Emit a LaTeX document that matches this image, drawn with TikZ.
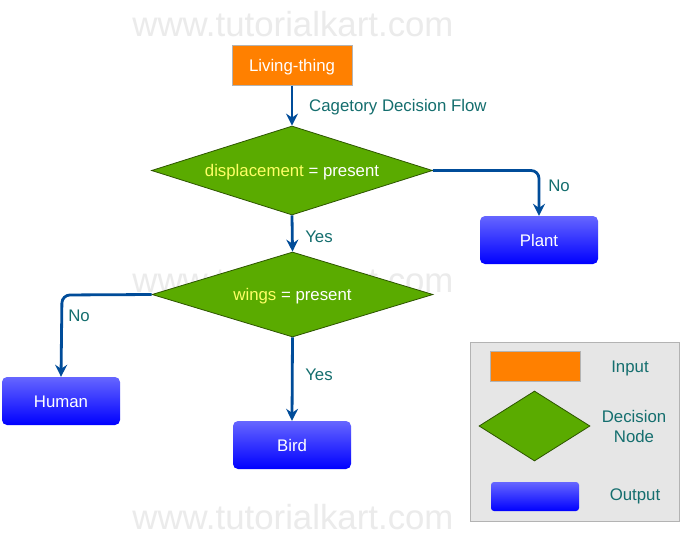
\documentclass[tikz,border=0pt]{standalone}
\usepackage{fontspec}
\setmainfont{Liberation Sans}
\usetikzlibrary{shapes.geometric,arrows.meta}
\definecolor{arrowblue}{HTML}{004C99}
\definecolor{labelteal}{HTML}{146E6E}
\definecolor{inorange}{HTML}{FF8000}
\definecolor{decgreen}{HTML}{5AAB00}
\definecolor{decborder}{HTML}{2D5500}
\definecolor{outtop}{HTML}{6666FF}
\definecolor{outbot}{HTML}{0000FF}
\definecolor{legendbg}{HTML}{E6E6E6}
\definecolor{legendborder}{HTML}{B3B3B3}
\definecolor{wmgray}{HTML}{EBEBEB}
\definecolor{condyellow}{HTML}{FFFF66}
\tikzset{
  x=1pt, y=-1pt,
  txt/.style={font=\fontsize{16.8}{20}\selectfont},
  low/.style={text height=14.5pt, text depth=2pt},
  inputbox/.style={txt, low, draw=legendborder, line width=1pt, fill=inorange, text=white, minimum width=120pt, minimum height=40pt, inner sep=0pt},
  decision/.style={txt, low, diamond, draw=decborder, line width=0.8pt, fill=decgreen, text=white, inner sep=0pt},
  outputbox/.style={txt, low, rounded corners=5pt, top color=outtop, bottom color=outbot, draw=none, text=white, minimum width=118pt, minimum height=48pt, inner sep=0pt},
  flow/.style={draw=arrowblue, line width=2.8pt, rounded corners=8pt, -{Stealth[length=12pt,width=12pt,inset=4pt]}},
  lbl/.style={txt, text=labelteal, inner sep=0pt},
  watermark/.style={font=\fontsize{34.8}{40}\selectfont, text=wmgray, inner sep=0pt}
}
\begin{document}
\begin{tikzpicture}
\useasboundingbox (0,0) rectangle (680,539);
\fill[white] (0,0) rectangle (680,539);
% watermarks
\node[watermark] (wm1) at (293,24) {www.tutorialkart.com};
\node[watermark] (wm2) at (293,280) {www.tutorialkart.com};
\node[watermark] (wm3) at (293,517) {www.tutorialkart.com};
% nodes
\node[inputbox] (living) at (292,65) {Living-thing};
\node[decision, shape aspect=3.157, minimum width=281pt, minimum height=89pt] (d1) at (292,170.5) {\textcolor{condyellow}{displacement} = present};
\node[decision, shape aspect=3.3, minimum width=281pt, minimum height=85pt] (d2) at (292.5,294.5) {\textcolor{condyellow}{wings} = present};
\node[outputbox] (plant) at (539,240) {Plant};
\node[outputbox] (human) at (61,401) {Human};
\node[outputbox] (bird) at (292,445) {Bird};
% connectors
\draw[flow] (living.south) -- (d1.north);
\node[lbl, low, anchor=west] (cdf) at (309,105) {Cagetory Decision Flow};
\draw[flow] (d1.east) -| (plant.north);
\node[lbl, low] (no1) at (559,185) {No};
\draw[flow] (d1.south) -- (d2.north);
\node[lbl, low] (yes1) at (319,236) {Yes};
\coordinate (hc) at (62,295);
\draw[flow] (d2.west) -- (hc) -- (human.north);
\node[lbl, low] (no2) at (79,315) {No};
\draw[flow] (d2.south) -- (bird.north);
\node[lbl, low] (yes2) at (319,374) {Yes};
% legend
\node[draw=legendborder, line width=1pt, fill=legendbg, minimum width=209pt, minimum height=179pt, inner sep=0pt] (legend) at (574.5,431.5) {};
\node[draw=legendborder, line width=1pt, fill=inorange, minimum width=90pt, minimum height=30pt, inner sep=0pt] (lin) at (535,366) {};
\node[diamond, draw=decborder, line width=0.8pt, fill=decgreen, minimum width=111pt, minimum height=70pt, inner sep=0pt] (ldec) at (534.5,426) {};
\node[rounded corners=3pt, top color=outtop, bottom color=outbot, draw=none, minimum width=88pt, minimum height=29pt, inner sep=0pt] (lout) at (535,496.5) {};
\node[lbl, low] (tin) at (630,366) {Input};
\node[lbl, align=center] (tdec) at (634,426) {Decision\\Node};
\node[lbl, low] (tout) at (635,494) {Output};
\end{tikzpicture}
\end{document}
